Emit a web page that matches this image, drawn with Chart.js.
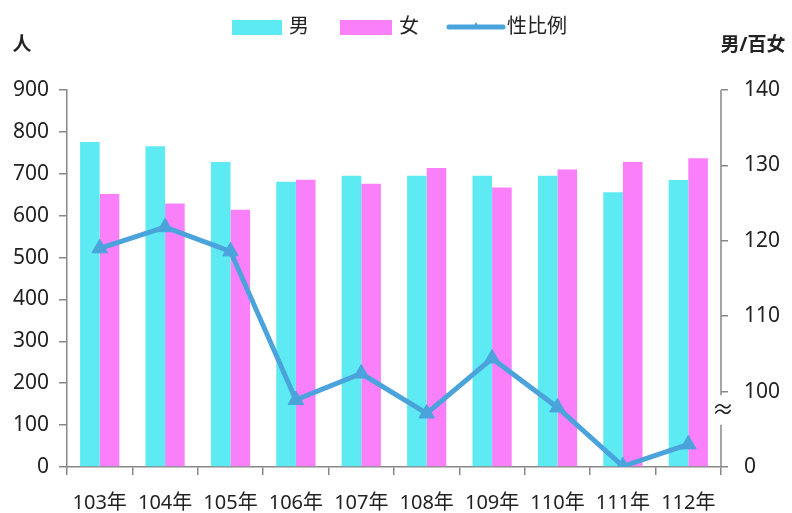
<!DOCTYPE html>
<html><head><meta charset="utf-8">
<script src="https://cdn.jsdelivr.net/npm/chart.js@4/dist/chart.umd.min.js"></script>
<style>html,body{margin:0;padding:0;background:#fff}#wrap{width:792px;height:513px}</style>
</head><body><div id="wrap"><canvas id="c" width="792" height="513"></canvas></div>
<script>
const categories = ['103年','104年','105年','106年','107年','108年','109年','110年','111年','112年'];
const male   = [776, 766, 728, 681, 695, 695, 695, 695, 656, 685];
const female = [652, 629, 614, 686, 676, 714, 667, 710, 728, 737];
const sexRatio = [119.0, 121.8, 118.6, 98.9, 102.4, 97.1, 104.4, 97.9, 90.1, 93.0];
const leftTicks = [0,100,200,300,400,500,600,700,800,900];
const rightTicks = [90,100,110,120,130,140];
const rightTickLabels = ['0','100','110','120','130','140'];

const FONT = '"Noto Sans","Noto Sans CJK TC",sans-serif';
const C_M = '#5eeaf2', C_F = '#fa80fa', C_L = '#4ba3dc';

const extras = {
  id: 'extras',
  afterDraw(chart) {
    const ctx = chart.ctx, ca = chart.chartArea, y1 = chart.scales.y1;
    ctx.save();
    // right axis with break
    ctx.strokeStyle = '#888'; ctx.lineWidth = 1.5;
    ctx.beginPath();
    ctx.moveTo(ca.right, ca.top); ctx.lineTo(ca.right, y1.getPixelForValue(99.5));
    ctx.moveTo(ca.right, y1.getPixelForValue(95.6)); ctx.lineTo(ca.right, ca.bottom);
    ctx.stroke();
    ctx.fillStyle = '#222';
    ctx.font = '22px ' + FONT;
    ctx.textAlign = 'center'; ctx.textBaseline = 'middle';
    ctx.fillText('≈', ca.right + 2, y1.getPixelForValue(97.4));
    // axis titles
    ctx.font = 'bold 19px ' + FONT;
    ctx.textAlign = 'center';
    ctx.fillText('人', 22, 46);
    ctx.fillText('男/百女', 753, 46);
    // legend
    ctx.font = '20px ' + FONT;
    ctx.textAlign = 'left';
    const ds = chart.data.datasets;
    const dm = ds.find(d => d.label === '男'), df = ds.find(d => d.label === '女'), dl = ds.find(d => d.type === 'line');
    const ly = 27;
    ctx.fillStyle = dm.backgroundColor; ctx.fillRect(232, ly - 7, 50, 15);
    ctx.fillStyle = '#222'; ctx.fillText(dm.label, 289, ly);
    ctx.fillStyle = df.backgroundColor; ctx.fillRect(340, ly - 7, 52, 15);
    ctx.fillStyle = '#222'; ctx.fillText(df.label, 399, ly);
    ctx.strokeStyle = dl.borderColor; ctx.lineWidth = 5; ctx.lineCap = 'round';
    ctx.beginPath(); ctx.moveTo(449, ly); ctx.lineTo(503, ly); ctx.stroke();
    ctx.fillStyle = dl.borderColor;
    ctx.beginPath(); ctx.moveTo(476, ly - 5); ctx.lineTo(480, ly + 2); ctx.lineTo(472, ly + 2); ctx.closePath(); ctx.fill();
    ctx.fillStyle = '#222'; ctx.fillText(dl.label, 507, ly);
    ctx.restore();
  }
};

new Chart(document.getElementById('c'), {
  data: {
    labels: categories,
    datasets: [
      { type: 'line', label: '性比例', data: sexRatio, yAxisID: 'y1', order: 0,
        borderColor: C_L, backgroundColor: C_L, borderWidth: 5,
        pointStyle: 'triangle', pointRadius: 9, pointBackgroundColor: C_L, pointBorderColor: C_L, pointBorderWidth: 1,
        tension: 0 },
      { type: 'bar', label: '男', data: male, yAxisID: 'y', order: 1,
        backgroundColor: C_M, borderWidth: 0,
        categoryPercentage: 0.6, barPercentage: 1.0 },
      { type: 'bar', label: '女', data: female, yAxisID: 'y', order: 1,
        backgroundColor: C_F, borderWidth: 0,
        categoryPercentage: 0.6, barPercentage: 1.0 }
    ]
  },
  options: {
    responsive: false, animation: false,
    layout: { padding: { top: 90, left: 0, right: 0, bottom: 0 } },
    plugins: { legend: { display: false }, tooltip: { enabled: false } },
    scales: {
      x: {
        offset: true,
        grid: { display: true, drawOnChartArea: false, offset: true, tickLength: 8, color: '#888', lineWidth: 1.5 },
        border: { display: true, color: '#888', width: 1.5 },
        ticks: { color: '#222', font: { size: 20, family: FONT }, padding: 16, maxRotation: 0, autoSkip: false },
        afterFit(s) { s.height = 46; }
      },
      y: {
        position: 'left', min: 0, max: 900,
        afterBuildTicks(s) { s.ticks = leftTicks.map(v => ({ value: v })); },
        grid: { drawOnChartArea: false, tickLength: 8, color: '#888', lineWidth: 1.5 },
        border: { display: true, color: '#888', width: 1.5 },
        ticks: { color: '#222', font: { size: 21, family: FONT }, padding: 10 },
        afterFit(s) { s.width = 67; }
      },
      y1: {
        position: 'right', min: 90, max: 140,
        afterBuildTicks(s) { s.ticks = rightTicks.map(v => ({ value: v })); },
        grid: { drawOnChartArea: false, tickLength: 7, color: '#888', lineWidth: 1.5 },
        border: { display: false },
        ticks: { color: '#222', font: { size: 21, family: FONT }, padding: 16,
          callback: (v) => rightTickLabels[rightTicks.indexOf(v)] },
        afterFit(s) { s.width = 71; }
      }
    }
  },
  plugins: [extras]
});
</script>
</body></html>
